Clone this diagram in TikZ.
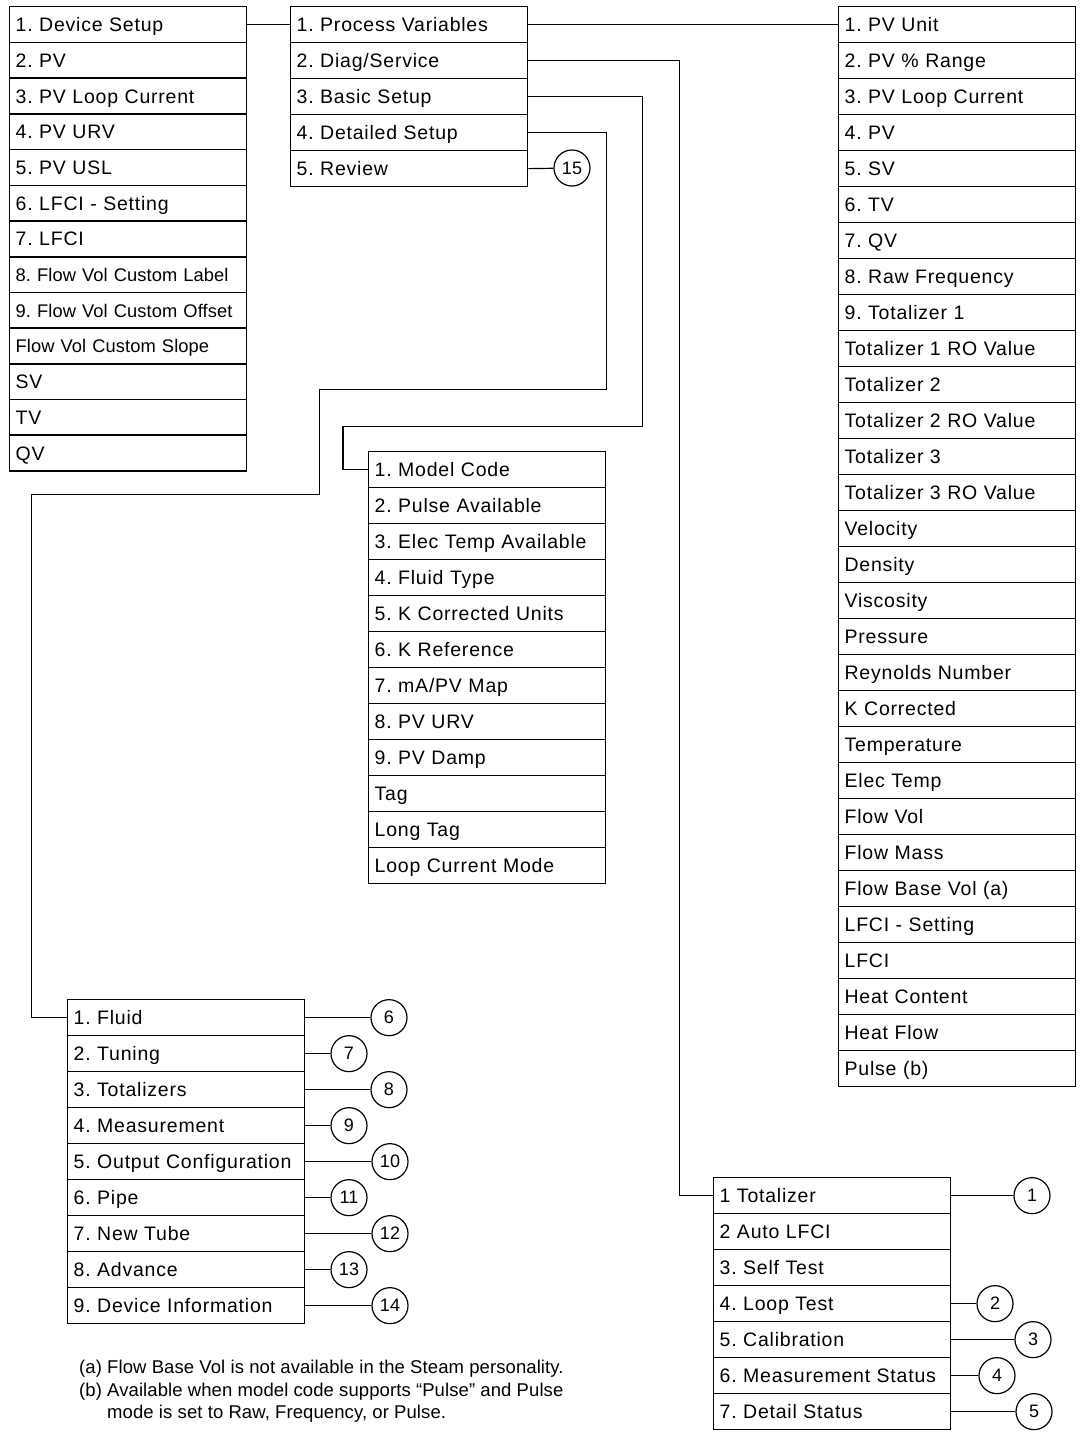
\documentclass[tikz,border=0pt]{standalone}
\usepackage{fontspec}
\setmainfont{Liberation Sans}[LetterSpace=4]
\newfontfamily\tightfont{Liberation Sans}[LetterSpace=0.5]
\usetikzlibrary{positioning}
\tikzset{
  entry/.style={draw, line width=1.3pt, anchor=north west, minimum height=36pt, text width=225pt, inner xsep=6pt, inner ysep=0pt, align=left, text height=14pt, text depth=0pt, font=\fontsize{19.5}{23}\selectfont},
  wide/.style={},
  small/.style={font=\tightfont\fontsize{18.3}{22}\selectfont},
  tag/.style={draw, circle, line width=1.2pt, minimum size=36pt, inner sep=0pt, font=\tightfont\fontsize{18}{21}\selectfont},
  link/.style={line width=1.2pt},
  note/.style={anchor=base west, inner sep=0pt, font=\tightfont\fontsize{18.5}{22}\selectfont}
}
\frenchspacing
\begin{document}
\frenchspacing
\begin{tikzpicture}[x=1pt, y=-1pt]
\useasboundingbox (0,0) rectangle (1079,1435);
% device setup list
\foreach \t/\s [count=\i] in {1. Device Setup/wide, 2. PV/wide, 3. PV Loop Current/wide, 4. PV URV/wide, 5. PV USL/wide, 6. LFCI - Setting/wide, 7. LFCI/wide, 8. Flow Vol Custom Label/small, 9. Flow Vol Custom Offset/small, Flow Vol Custom Slope/small, SV/wide, TV/wide, QV/wide}
  \node[entry, \s] (dev\i) at (9,{6+35.7*(\i-1)}) {\t};
% main menu
\foreach \t [count=\i] in {1. Process Variables, 2. Diag/Service, 3. Basic Setup, 4. Detailed Setup, 5. Review}
  \node[entry] (menu\i) at (290,{6+36*(\i-1)}) {\t};
% process variables
\foreach \t [count=\i] in {1. PV Unit, 2. PV \% Range, 3. PV Loop Current, 4. PV, 5. SV, 6. TV, 7. QV, 8. Raw Frequency, 9. Totalizer 1, Totalizer 1 RO Value, Totalizer 2, Totalizer 2 RO Value, Totalizer 3, Totalizer 3 RO Value, Velocity, Density, Viscosity, Pressure, Reynolds Number, K Corrected, Temperature, Elec Temp, Flow Vol, Flow Mass, Flow Base Vol (a), LFCI - Setting, LFCI, Heat Content, Heat Flow, Pulse (b)}
  \node[entry] (pv\i) at (838,{6+36*(\i-1)}) {\t};
% basic setup
\foreach \t [count=\i] in {1. Model Code, 2. Pulse Available, 3. Elec Temp Available, 4. Fluid Type, 5. K Corrected Units, 6. K Reference, 7. mA/PV Map, 8. PV URV, 9. PV Damp, Tag, Long Tag, Loop Current Mode}
  \node[entry] (basic\i) at (368,{451+36*(\i-1)}) {\t};
% detailed setup
\foreach \t [count=\i] in {1. Fluid, 2. Tuning, 3. Totalizers, 4. Measurement, 5. Output Configuration, 6. Pipe, 7. New Tube, 8. Advance, 9. Device Information}
  \node[entry] (detail\i) at (67,{999+36*(\i-1)}) {\t};
% diag/service
\foreach \t [count=\i] in {1 Totalizer, 2 Auto LFCI, 3. Self Test, 4. Loop Test, 5. Calibration, 6. Measurement Status, 7. Detail Status}
  \node[entry] (diag\i) at (713,{1177+36*(\i-1)}) {\t};

% page references
\node[tag] (ref15) at (572,168) {15};
\draw[link] (menu5.east) -- (ref15);
\foreach \n/\r/\cx in {6/1/389, 7/2/349, 8/3/389, 9/4/349, 10/5/390, 11/6/349, 12/7/390, 13/8/349, 14/9/390} {
  \node[tag] (ref\n) at (\cx,0 |- detail\r.east) {\n};
  \draw[link] (detail\r.east) -- (ref\n);
}
\foreach \n/\r/\cx in {1/1/1032, 2/4/995, 3/5/1033, 4/6/997, 5/7/1034} {
  \node[tag] (ref\n) at (\cx,0 |- diag\r.east) {\n};
  \draw[link] (diag\r.east) -- (ref\n);
}

% menu links
\draw[link] (dev1.east) -- (menu1.west);
\draw[link] (menu1.east) -- (pv1.west);
\draw[link] (menu2.east) -- ++(151,0) |- (diag1.west);
\draw[link] (menu3.east) -- ++(114,0) -- ++(0,330) -| ([xshift=-25pt]basic1.west) -- (basic1.west);
\draw[link] (menu4.east) -- ++(78,0) -- ++(0,257) -- ++(-287,0) -- ++(0,105) -- ++(-288,0) |- (detail1.west);

% footnotes
\node[note] (note1) at (79,1373) {(a) Flow Base Vol is not available in the Steam personality.};
\node[note] (note2) at (79,1396) {(b) Available when model code supports “Pulse” and Pulse};
\node[note] (note3) at (79,1418) {\phantom{(b) }mode is set to Raw, Frequency, or Pulse.};
\end{tikzpicture}
\end{document}
